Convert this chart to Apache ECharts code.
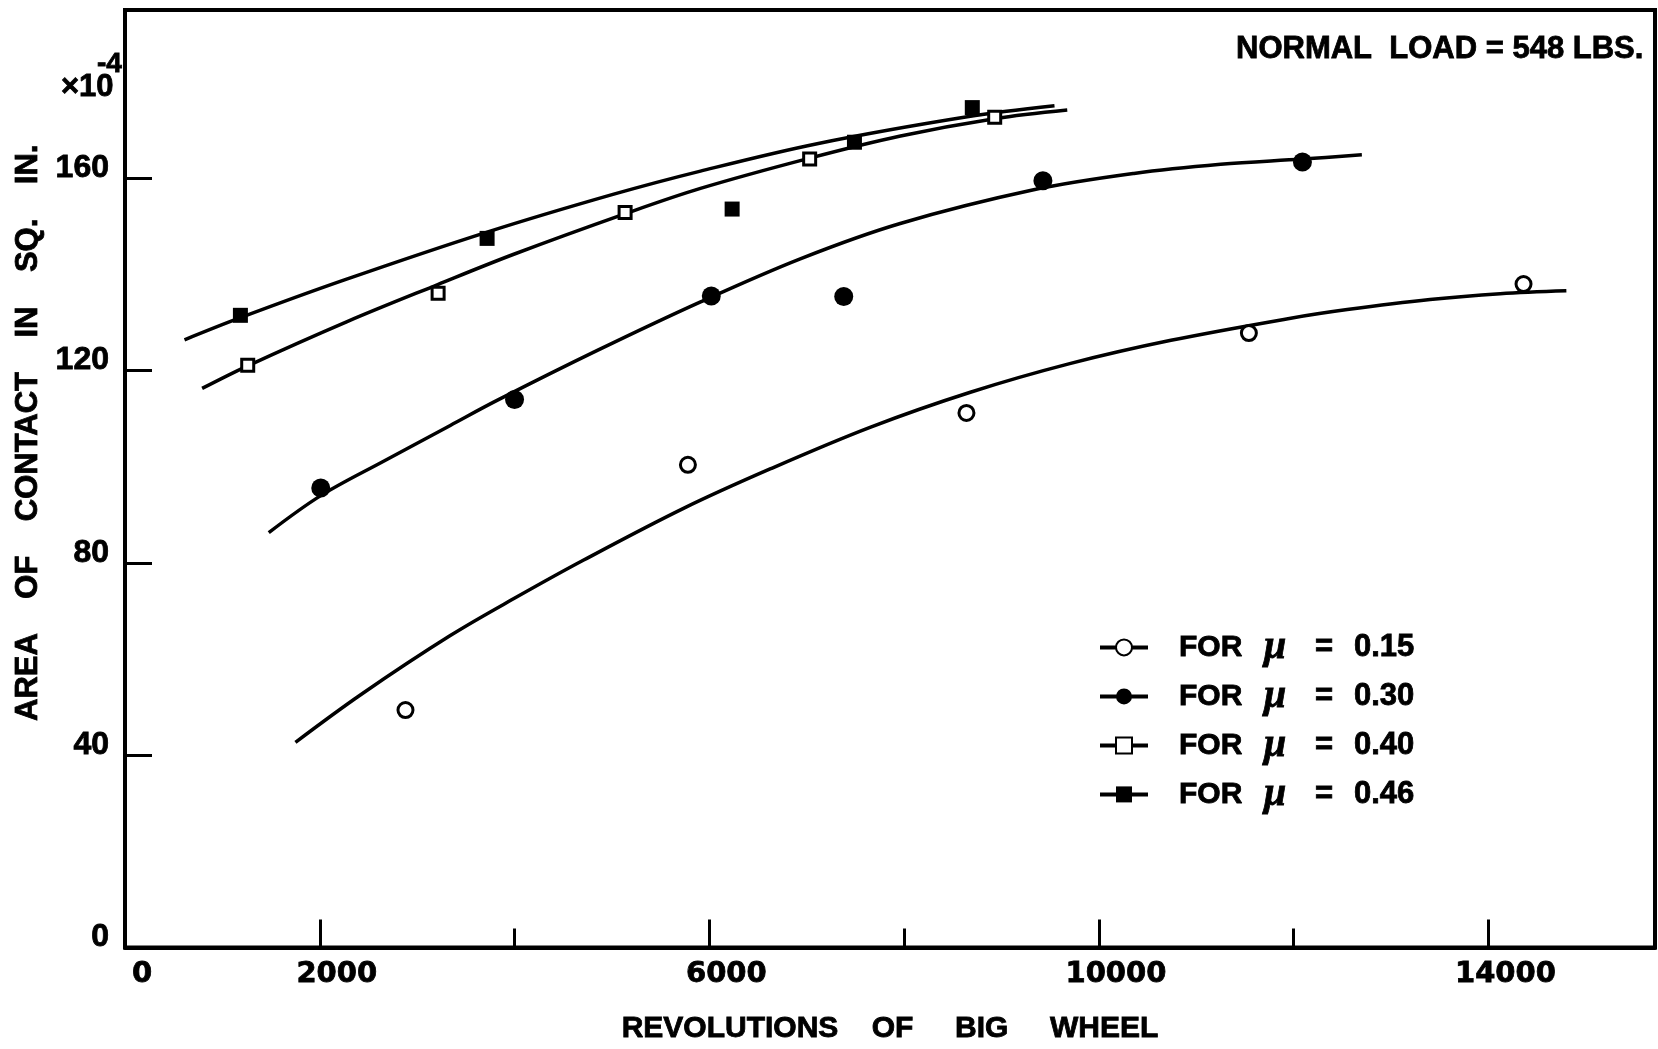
<!DOCTYPE html>
<html>
<head>
<meta charset="utf-8">
<script src="https://cdn.jsdelivr.net/npm/echarts@6/dist/echarts.min.js"></script>
<style>
  html, body { margin: 0; padding: 0; background: #fff; }
  #chart { width: 1658px; height: 1049px; }
</style>
</head>
<body>
<div id="chart"></div>
<script>
// Measured contact areas (x10^-4 sq. in.) against revolutions of the big wheel
const mu015Points = [[2880, 49.4], [5780, 100.4], [8640, 111.2], [11540, 127.8], [14360, 138.0]];
const mu030Points = [[2010, 95.6], [4000, 114.0], [6020, 135.5], [7380, 135.4], [9425, 159.5], [12090, 163.4]];
const mu040Points = [[1260, 121.1], [3215, 136.1], [5135, 152.9], [7030, 164.0], [8930, 172.7]];
const mu046Points = [[1185, 131.5], [3718, 147.5], [6234, 153.6], [7490, 167.5], [8700, 174.7]];

// Faired trend curve for each friction coefficient
const mu015Curve = [[1750, 42.7], [2420, 52.6], [3340, 64.9], [4030, 73.0], [4710, 80.6], [5740, 91.4], [6630, 99.6], [7650, 108.2], [8680, 115.5], [9710, 121.5], [10740, 126.3], [11970, 130.9], [12550, 132.7], [13400, 134.8], [14120, 136.0], [14800, 136.6]];
const mu030Curve = [[1476, 86.3], [2010, 94.0], [2660, 101.2], [3340, 108.6], [3820, 113.8], [4850, 124.2], [5910, 134.3], [6940, 143.3], [7960, 150.6], [9330, 157.6], [10360, 161.0], [11250, 162.9], [12090, 164.0], [12700, 164.9]];
const mu040Curve = [[792, 116.3], [1260, 121.0], [2281, 130.2], [3211, 137.9], [3992, 144.2], [5132, 152.6], [5909, 157.9], [7031, 164.2], [7963, 168.8], [8928, 172.4], [9675, 174.2]];
const mu046Curve = [[611, 126.4], [1185, 131.0], [2246, 138.8], [3718, 148.8], [5019, 156.7], [5909, 161.5], [7107, 167.2], [8648, 172.8], [9544, 175.1]];

const muValues = ['0.15', '0.30', '0.40', '0.46'];

// Axis ticks and labels
const xMajorTicks = [2000, 6000, 10000, 14000];
const xMinorTicks = [4000, 8000, 12000];
const xTickLabels = [0, 2000, 6000, 10000, 14000];
const yTicks = [40, 80, 120, 160];
const yTickLabels = [0, 40, 80, 120, 160];

const X_MAX = 15710;
const Y_MAX = 195;

const curves = [mu015Curve, mu030Curve, mu040Curve, mu046Curve];
const points = [mu015Points, mu030Points, mu040Points, mu046Points];

// Marker look per coefficient: open circle, filled circle, open square, filled square
const markerStyles = [
  { legendSymbol: 'emptyCircle', symbol: 'circle', size: 15, fill: '#fff', border: 3 },
  { legendSymbol: 'circle', symbol: 'circle', size: 19, fill: '#000', border: 0 },
  { legendSymbol: 'emptyRect', symbol: 'rect', size: 12, fill: '#fff', border: 3 },
  { legendSymbol: 'rect', symbol: 'rect', size: 15, fill: '#000', border: 0 }
];

// Heavy lettering: bold face with a thin outline of the same colour
const INK = { color: '#000', textBorderColor: '#000', textBorderWidth: 0.8 };
const BOLD = Object.assign({ fontFamily: 'Liberation Sans', fontWeight: 'bold' }, INK);

const series = [];
muValues.forEach((mu, i) => {
  const st = markerStyles[i];
  series.push({
    name: mu,
    type: 'line',
    data: curves[i],
    smooth: 0.35,
    symbol: st.legendSymbol,
    showSymbol: false,
    itemStyle: { color: '#000' },
    lineStyle: { color: '#000', width: 3.5 },
    z: 2,
    silent: true
  });
  series.push({
    name: 'mu ' + mu + ' measured',
    type: 'scatter',
    data: points[i],
    symbol: st.symbol,
    symbolSize: st.size,
    itemStyle: { color: st.fill, borderColor: '#000', borderWidth: st.border, opacity: 1 },
    z: 3,
    silent: true
  });
});

const chart = echarts.init(document.getElementById('chart'), null, { renderer: 'canvas' });
chart.setOption({
  animation: false,
  backgroundColor: '#fff',
  title: [
    {
      text: 'NORMAL  LOAD = 548 LBS.',
      left: 1236, top: 34, padding: 0,
      textStyle: Object.assign({ fontSize: 31 }, BOLD)
    },
    {
      text: '×10',
      left: 61, top: 72, padding: 0,
      textStyle: Object.assign({ fontSize: 31 }, BOLD)
    },
    {
      text: '-4',
      left: 97, top: 50, padding: 0,
      textStyle: Object.assign({ fontSize: 28 }, BOLD)
    }
  ],
  legend: {
    data: muValues,
    orient: 'vertical',
    left: 1098,
    top: 627,
    padding: 0,
    itemWidth: 48,
    itemHeight: 20,
    itemGap: 8.2,
    selectedMode: false,
    lineStyle: { width: 4 },
    formatter: (name) => '{g| }{f|FOR}{m|μ}{e|=}{v|' + name + '}',
    textStyle: {
      rich: {
        g: { width: 26, lineHeight: 20 },
        f: Object.assign({ width: 85, fontFamily: "'Liberation Sans Narrow', 'Liberation Sans'", fontWeight: 'bold', fontSize: 30, lineHeight: 20 }, INK),
        m: Object.assign({ width: 51, fontFamily: 'Liberation Serif', fontStyle: 'italic', fontWeight: 'bold', fontSize: 40, lineHeight: 20 }, INK),
        e: Object.assign({ width: 39, fontFamily: 'Liberation Sans', fontWeight: 'bold', fontSize: 31, lineHeight: 20 }, INK),
        v: Object.assign({ fontFamily: 'Liberation Sans', fontWeight: 'bold', fontSize: 31, lineHeight: 20 }, INK)
      }
    }
  },
  grid: {
    left: 125, right: 3, top: 10, bottom: 100.5,
    show: true, borderColor: '#000', borderWidth: 4
  },
  xAxis: [
    {
      type: 'value', min: 0, max: X_MAX, position: 'bottom',
      axisLine: { show: true, lineStyle: { color: '#000', width: 4 } },
      axisTick: { show: true, inside: true, length: 28, customValues: xMajorTicks, lineStyle: { color: '#000', width: 3 } },
      axisLabel: Object.assign({
        customValues: xTickLabels, margin: 12, padding: [0, 0, 0, 34],
        formatter: (v) => String(v),
        fontFamily: 'DejaVu Sans', fontWeight: 'bold', fontSize: 29
      }, INK),
      splitLine: { show: false },
      name: 'REVOLUTIONS    OF     BIG     WHEEL',
      nameLocation: 'middle',
      nameGap: 66,
      nameTextStyle: Object.assign({ fontSize: 30 }, BOLD)
    },
    {
      type: 'value', min: 0, max: X_MAX, position: 'bottom',
      axisLine: { show: false },
      axisTick: { show: true, inside: true, length: 19, customValues: xMinorTicks, lineStyle: { color: '#000', width: 3 } },
      axisLabel: { show: false },
      splitLine: { show: false }
    }
  ],
  yAxis: {
    type: 'value', min: 0, max: Y_MAX,
    axisLine: { show: true, lineStyle: { color: '#000', width: 4 } },
    axisTick: { show: true, inside: true, length: 27, customValues: yTicks, lineStyle: { color: '#000', width: 3 } },
    axisLabel: Object.assign({
      customValues: yTickLabels, margin: 16,
      verticalAlign: 'bottom', lineHeight: 20,
      fontFamily: 'Liberation Sans', fontWeight: 'bold', fontSize: 32
    }, INK),
    splitLine: { show: false },
    name: 'AREA    OF    CONTACT    IN    SQ.    IN.',
    nameLocation: 'middle',
    nameGap: 75,
    nameTextStyle: Object.assign({ fontSize: 31, padding: [0, 0, 0, 92] }, BOLD)
  },
  series: series
});
</script>
</body>
</html>
